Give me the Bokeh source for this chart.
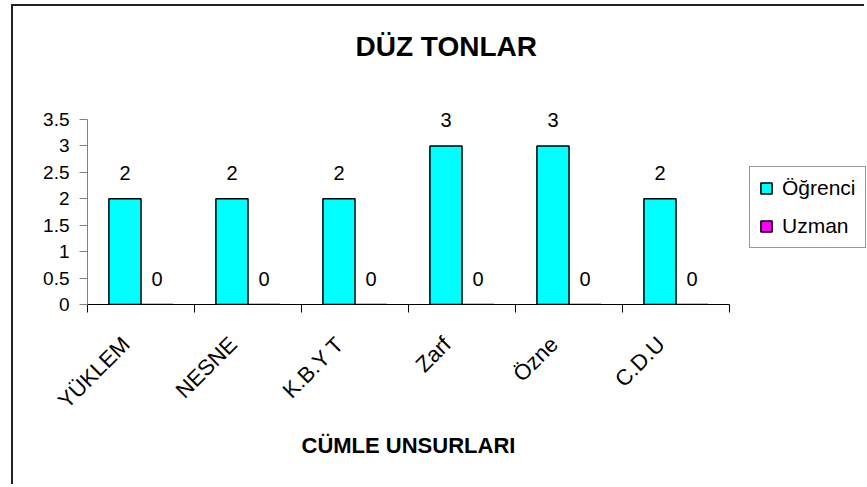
import math
from bokeh.plotting import figure
from bokeh.models import (Range1d, FixedTicker, LinearAxis, Legend, LegendItem,
                          ColumnDataSource, CustomJSTickFormatter, LabelSet, Title)
from bokeh.transform import dodge
from bokeh.core.properties import value
from bokeh.embed import file_html
from bokeh.resources import INLINE

# ---- data ----
categories = ["YÜKLEM", "NESNE", "K.B.Y T", "Zarf", "Özne", "C.D.U"]
ogrenci = [2, 2, 2, 3, 3, 2]
uzman = [0, 0, 0, 0, 0, 0]
series_names = ["Öğrenci", "Uzman"]
series_colors = ["#00FFFF", "#FF00FF"]
y_ticks = [0, 0.5, 1, 1.5, 2, 2.5, 3, 3.5]
title_text = "DÜZ TONLAR"
x_title = "CÜMLE UNSURLARI"

FONT = "Liberation Sans"

n = len(categories)
pos = [i + 0.5 for i in range(n)]
edges = list(range(n + 1))
# rotated category labels sit slightly left of the category centre (as in the original)
label_pos = [x - 0.14 for x in pos]
src = ColumnDataSource(dict(
    pos=pos, cat=categories, ogr=ogrenci, uzm=uzman,
    ogr_lbl=[str(v) for v in ogrenci], uzm_lbl=[str(v) for v in uzman],
))

# the frame is extended right/up (invisible) so labels and legend are not clipped
p = figure(width=853, height=480,
           x_range=Range1d(0, n + 1.28), y_range=Range1d(0, 4.2),
           output_backend="svg", toolbar_location=None,
           min_border_left=74, min_border_right=0,
           min_border_top=76, min_border_bottom=182,
           x_axis_type=None, y_axis_type=None,
           styles={"border-left": "2px solid #222222",
                   "border-top": "2px solid #222222",
                   "margin-left": "11px", "margin-top": "4px"})
p.outline_line_color = None
p.background_fill_color = "white"
p.border_fill_color = "white"
p.xgrid.visible = False
p.ygrid.visible = False

# title
p.title.text = title_text
p.title.align = "left"
p.title.text_font = FONT
p.title.text_font_size = "28px"
p.title.text_font_style = "bold"
p.title.text_color = "black"
p.title.offset = 268
p.title.standoff = 41

# bars
bw = 0.3
r1 = p.vbar(x=dodge("pos", -0.15, range=p.x_range), top="ogr", width=bw, source=src,
            fill_color=series_colors[0], line_color="black", line_width=1.5)
r2 = p.vbar(x=dodge("pos", 0.15, range=p.x_range), top="uzm", width=bw, source=src,
            fill_color=series_colors[1], line_color="black", line_width=1.5)

# data labels
for col, lbl, off in (("ogr", "ogr_lbl", -0.15), ("uzm", "uzm_lbl", 0.15)):
    ls = LabelSet(x=dodge("pos", off, range=p.x_range), y=col, text=lbl, source=src,
                  text_font=value(FONT), text_font_size="20px", text_align="center",
                  text_baseline="middle", y_offset=26, text_color="black")
    p.add_layout(ls)

# y axis
yaxis = LinearAxis(ticker=FixedTicker(ticks=y_ticks), bounds=(0, max(y_ticks)),
                   formatter=CustomJSTickFormatter(code="return tick.toString();"))
yaxis.axis_line_color = "#808080"
yaxis.major_tick_line_color = "#808080"
yaxis.major_tick_out = 8
yaxis.major_tick_in = 0
yaxis.minor_tick_line_color = None
yaxis.major_label_text_font = FONT
yaxis.major_label_text_font_size = "19px"
yaxis.major_label_text_color = "black"
yaxis.major_label_standoff = 10
p.add_layout(yaxis, "left")

# x axis: labels per category, tick marks at the category boundaries
xaxis = LinearAxis(ticker=FixedTicker(ticks=label_pos, minor_ticks=edges), bounds=(0, n),
                   major_label_overrides={lp: c for lp, c in zip(label_pos, categories)})
xaxis.axis_line_color = "black"
xaxis.major_tick_line_color = None
xaxis.major_tick_out = 0
xaxis.major_tick_in = 0
xaxis.minor_tick_line_color = "black"
xaxis.minor_tick_out = 8
xaxis.minor_tick_in = 0
xaxis.major_label_orientation = math.pi / 4
xaxis.major_label_text_font = FONT
xaxis.major_label_text_font_size = "22px"
xaxis.major_label_text_color = "black"
xaxis.major_label_standoff = 28
p.add_layout(xaxis, "below")

# x axis title (centred under the category axis, not under the wider frame)
xt = Title(text=x_title, align="left", offset=214, standoff=10,
           text_font=FONT, text_font_size="22px", text_font_style="bold",
           text_color="black")
p.add_layout(xt, "below")

# legend
legend = Legend(items=[LegendItem(label=series_names[0], renderers=[r1]),
                       LegendItem(label=series_names[1], renderers=[r2])],
                location=(662, 56))
legend.label_text_font = FONT
legend.label_text_font_size = "21px"
legend.label_text_color = "black"
legend.glyph_width = 14
legend.glyph_height = 14
legend.label_height = 20
legend.label_standoff = 9
legend.spacing = 14
legend.padding = 9
legend.margin = 0
legend.border_line_color = "#333333"
legend.border_line_width = 1
legend.background_fill_color = "white"
p.add_layout(legend, "center")

open("out.html", "w").write(file_html(p, INLINE))
